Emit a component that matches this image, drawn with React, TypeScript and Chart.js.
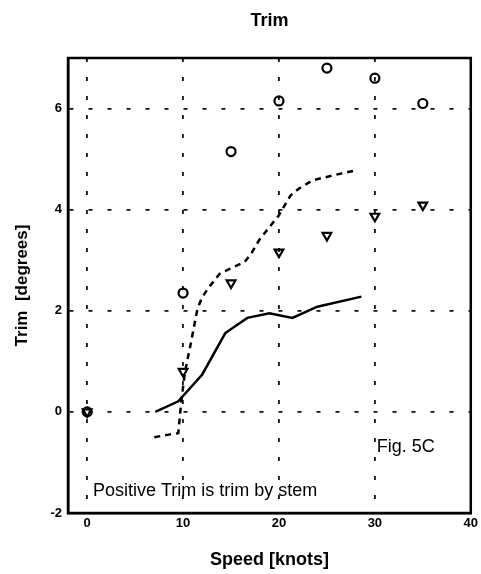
import React, { useEffect, useRef } from "react";
import { Chart, registerables } from "chart.js";

Chart.register(...registerables);

const circleSpeeds = [0, 10, 15, 20, 25, 30, 35];
const circleTrim = [0, 2.35, 5.15, 6.15, 6.8, 6.6, 6.1];

const triangleSpeeds = [0, 10, 15, 20, 25, 30, 35];
const triangleTrim = [0, 0.8, 2.55, 3.16, 3.49, 3.87, 4.09];

const solidSpeeds = [7.1, 9.5, 12.0, 14.4, 16.7, 19.0, 21.4, 24.0, 28.6];
const solidTrim = [0.0, 0.21, 0.74, 1.56, 1.86, 1.95, 1.86, 2.08, 2.28];

const dashedSpeeds = [7.0, 8.5, 9.5, 9.8, 10.2, 10.8, 11.5, 12.0, 12.6, 13.8, 15.3, 16.4, 17.1, 17.9, 18.6, 20.0, 21.2, 22.1, 23.5, 25.9, 28.1];
const dashedTrim = [-0.5, -0.45, -0.42, 0.19, 0.79, 1.35, 2.04, 2.27, 2.44, 2.73, 2.87, 2.96, 3.13, 3.39, 3.56, 3.89, 4.28, 4.42, 4.58, 4.69, 4.78];

const xTicks = [0, 10, 20, 30, 40];
const yTicks = [-2, 0, 2, 4, 6];

const noteTexts = ["Fig. 5C", "Positive Trim is trim by stem"];
const noteSpeeds = [30.2, 0.6];
const noteTrims = [-0.69, -1.56];

const FONT = "'Liberation Sans', Arial, Helvetica, sans-serif";

const zip = (xs: number[], ys: number[]) => xs.map((x, i) => ({ x, y: ys[i] }));

const framePlugin = {
  id: "frameAndNotes",
  afterDraw(chart: any) {
    const { ctx, chartArea } = chart;
    const { left, top, right, bottom } = chartArea;
    ctx.save();
    ctx.setLineDash([]);
    ctx.strokeStyle = "#000";
    ctx.lineWidth = 2.5;
    ctx.strokeRect(left, top, right - left, bottom - top);
    ctx.fillStyle = "#000";
    ctx.font = `18px ${FONT}`;
    ctx.textAlign = "left";
    ctx.textBaseline = "middle";
    const xs = chart.scales.x;
    const ys = chart.scales.y;
    noteTexts.forEach((t, i) => {
      ctx.fillText(t, xs.getPixelForValue(noteSpeeds[i]), ys.getPixelForValue(noteTrims[i]));
    });
    ctx.restore();
  },
};

export default function App() {
  const ref = useRef<HTMLCanvasElement | null>(null);

  useEffect(() => {
    if (!ref.current) return;
    const chart = new Chart(ref.current, {
      type: "line",
      data: {
        datasets: [
          {
            label: "solid",
            data: zip(solidSpeeds, solidTrim),
            borderColor: "#000",
            borderWidth: 2.5,
            pointRadius: 0,
            tension: 0,
            fill: false,
          },
          {
            label: "dashed",
            data: zip(dashedSpeeds, dashedTrim),
            borderColor: "#000",
            borderWidth: 2.5,
            borderDash: [6, 5],
            pointRadius: 0,
            tension: 0,
            fill: false,
          },
          {
            label: "circles",
            data: zip(circleSpeeds, circleTrim),
            showLine: false,
            pointStyle: "circle",
            pointRadius: 4.5,
            pointBorderWidth: 2.2,
            pointBorderColor: "#000",
            pointBackgroundColor: "rgba(255,255,255,0)",
          },
          {
            label: "triangles",
            data: zip(triangleSpeeds, triangleTrim),
            showLine: false,
            pointStyle: "triangle",
            pointRotation: 180,
            pointRadius: 5,
            pointBorderWidth: 2.2,
            pointBorderColor: "#000",
            pointBackgroundColor: "rgba(255,255,255,0)",
          },
        ],
      },
      options: {
        responsive: false,
        animation: false,
        layout: { padding: { left: 0, right: 9, top: 0, bottom: 0 } },
        plugins: {
          legend: { display: false },
          tooltip: { enabled: false },
          title: {
            display: true,
            text: "Trim",
            fullSize: false,
            color: "#000",
            font: { family: FONT, size: 18, weight: "bold", lineHeight: 1.2 },
            padding: { top: 10, bottom: 26.4 },
          },
        },
        scales: {
          x: {
            type: "linear",
            min: -2,
            max: 40,
            afterBuildTicks: (scale: any) => {
              scale.ticks = xTicks.map((v) => ({ value: v }));
            },
            afterFit: (scale: any) => {
              scale.height = 61;
            },
            ticks: {
              color: "#000",
              padding: 3,
              maxRotation: 0,
              font: { family: FONT, size: 13, weight: "bold" },
            },
            grid: {
              drawTicks: false,
              color: (c: any) => (c.tick && c.tick.value === 40 ? "rgba(0,0,0,0)" : "#111"),
              lineWidth: 1.8,
            },
            border: { display: true, color: "#000", width: 2.5, dash: [4, 15] },
            title: {
              display: true,
              text: "Speed [knots]",
              color: "#000",
              font: { family: FONT, size: 18, weight: "bold", lineHeight: 1.2 },
              padding: { top: 0, bottom: 3 },
            },
          },
          y: {
            type: "linear",
            min: -2,
            max: 7,
            afterBuildTicks: (scale: any) => {
              scale.ticks = yTicks.map((v) => ({ value: v }));
            },
            afterFit: (scale: any) => {
              scale.width = 68;
            },
            ticks: {
              color: "#000",
              padding: 6,
              font: { family: FONT, size: 13, weight: "bold" },
            },
            grid: {
              drawTicks: false,
              color: (c: any) => (c.tick && c.tick.value === -2 ? "rgba(0,0,0,0)" : "#111"),
              lineWidth: 1.8,
            },
            border: { display: true, color: "#000", width: 2.5, dash: [4, 15] },
            title: {
              display: true,
              text: "Trim  [degrees]",
              color: "#000",
              font: { family: FONT, size: 17, weight: "bold", lineHeight: 1.2 },
              padding: { top: 12, bottom: 0 },
            },
          },
        },
      },
      plugins: [framePlugin],
    } as any);
    return () => chart.destroy();
  }, []);

  return (
    <div style={{ position: "absolute", left: 0, top: 0, width: 481, height: 574 }}>
      <canvas ref={ref} width={481} height={574} style={{ display: "block" }} />
    </div>
  );
}
